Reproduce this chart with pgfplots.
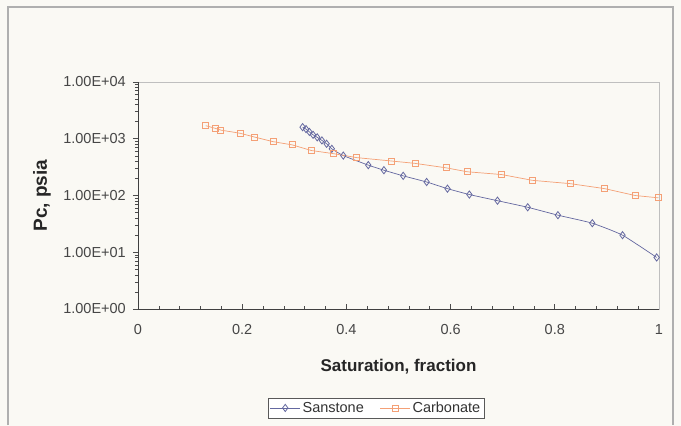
\documentclass[border=0pt]{standalone}
\usepackage{fontspec}
\setmainfont{Liberation Sans}
\usepackage{pgfplots}
\pgfplotsset{compat=1.18}
\definecolor{bgc}{RGB}{250,249,244}
\definecolor{sand}{RGB}{100,104,160}
\definecolor{carb}{RGB}{244,160,118}
\definecolor{framec}{RGB}{175,175,175}
\definecolor{txt}{RGB}{70,70,70}
\begin{document}
\begin{tikzpicture}[x=1pt,y=1pt]
\fill[bgc] (-138,-117) rectangle (543,309);
\useasboundingbox (-138,-117) rectangle (543,309);
\draw[framec,line width=1.2pt] (-130,-116) -- (-130,302) -- (535,302) -- (535,-116);
\begin{axis}[
  at={(0,0)}, anchor=south west,
  scale only axis, width=521pt, height=227pt,
  xmin=0, xmax=1, ymode=log, ymin=1, ymax=10000,
  xtick={0,0.2,0.4,0.6,0.8,1},
  xticklabels={0,0.2,0.4,0.6,0.8,1},
  minor x tick num=4,
  ytick={1,10,100,1000,10000},
  yticklabels={1.00E+00,1.00E+01,1.00E+02,1.00E+03,1.00E+04},
  xtick pos=bottom, ytick pos=left,
  tick align=inside,
  major tick length=5pt, minor tick length=3pt,
  major y tick style={xshift=-5pt},
  minor y tick style={xshift=-3pt},
  tick style={black!70, line width=0.6pt},
  axis line style={black!25, line width=0.6pt},
  ticklabel style={font=\fontsize{14.5}{16}\selectfont, text=txt, inner sep=0pt},
  xticklabel style={anchor=center, yshift=-21pt},
  yticklabel style={anchor=east, xshift=-12pt},
  xlabel={\textbf{Saturation, fraction}},
  ylabel={\textbf{Pc, psia}},
  label style={text=black!85},
  xlabel style={font=\fontsize{17}{19}\selectfont, at={(axis description cs:0.5,-0.2555)}, anchor=center},
  ylabel style={font=\fontsize{19}{21}\selectfont, at={(axis description cs:-0.1843,0.5)}, anchor=center, rotate=0},
  legend columns=2,
  legend style={at={(axis description cs:0.457,-0.436)}, anchor=center,
    draw=black!65, line width=0.8pt, fill=white,
    font=\fontsize{14.5}{16}\selectfont, text=black!80,
    inner sep=2pt,
    /tikz/every even column/.append style={column sep=14pt}},
  legend image code/.code={\draw[mark repeat=2,mark phase=2] plot coordinates {(0pt,0pt) (15pt,0pt) (30pt,0pt)};},
]
\draw[black!75, line width=0.8pt] (rel axis cs:0,1) -- (rel axis cs:0,0) -- (rel axis cs:1,0);
\addplot[sand, line width=0.7pt, smooth, tension=0.3, mark=diamond, mark size=3.6pt, mark options={solid, fill=white, line width=0.8pt}] coordinates {
(0.316,1600) (0.3225,1480) (0.329,1320) (0.336,1175) (0.344,1060) (0.353,935)
(0.362,815) (0.372,665) (0.394,505) (0.442,343) (0.472,279) (0.509,222)
(0.554,173) (0.594,132) (0.636,104) (0.690,81) (0.748,62) (0.806,45)
(0.872,32.5) (0.930,20) (0.9955,8.1)
};
\addlegendentry{Sanstone}
\addplot[carb, line width=0.7pt, mark=square, mark size=3pt, mark options={solid, fill=white, line width=0.8pt}] coordinates {
(0.130,1700) (0.149,1520) (0.159,1420) (0.196,1250) (0.224,1070) (0.259,890)
(0.296,780) (0.333,620) (0.376,545) (0.420,465) (0.487,405) (0.532,368)
(0.591,308) (0.632,262) (0.698,234) (0.757,185) (0.829,162) (0.896,132)
(0.954,100) (0.999,91)
};
\addlegendentry{Carbonate}
\end{axis}
\end{tikzpicture}
\end{document}
